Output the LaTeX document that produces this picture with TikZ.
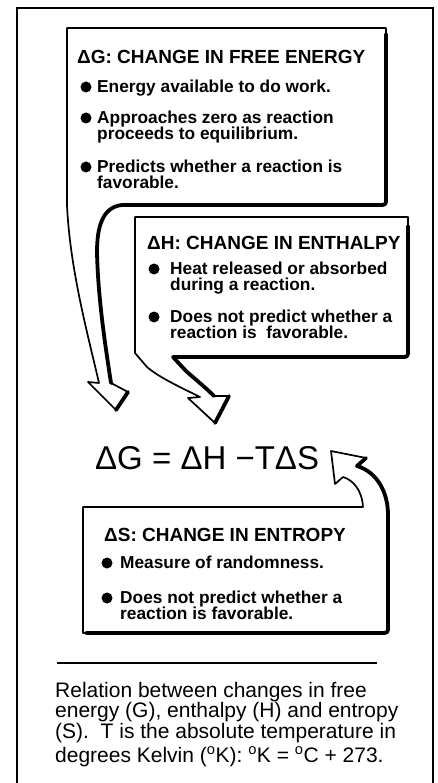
\documentclass[tikz,border=0pt]{standalone}
\usepackage{fontspec}
\setmainfont{Liberation Sans}
\newcommand\headfont{\fontsize{19}{19}\selectfont\bfseries}
\newcommand\itemfont{\fontsize{17.3}{15}\selectfont\bfseries}
\newcommand\eqfont{\fontsize{33}{33}\selectfont}
\newcommand\capfont{\fontsize{21}{20}\selectfont}
\begin{document}
\begin{tikzpicture}[x=1pt,y=-1pt,
  frameline/.style={line width=2pt},
  outline/.style={draw,fill=white,line width=1.7pt,line join=round},
  shade/.style={line width=3.8pt,line cap=round,line join=round},
  dot/.style={circle,fill,inner sep=0pt,minimum size=11pt},
  head/.style={font=\headfont,anchor=base west,inner sep=0pt},
  item/.style={font=\itemfont,anchor=base west,inner sep=0pt,text height=12.5pt,text depth=0pt},
  capline/.style={font=\capfont,anchor=base west,inner sep=0pt,text height=15pt,text depth=0pt}]
\useasboundingbox (0,0) rectangle (437,783);
\fill[white] (0,0) rectangle (437,783);

% outer frame, open at the bottom
\draw[frameline] (17,783) -- (17,8) -- (433,8) -- (433,783);

% ---- free energy callout with its arrow tail ----
\path[outline] (67,28) -- (386,28) -- (386,198) .. controls (386,205) .. (379,205)
  -- (122,205) .. controls (102,207) and (97,228) .. (97,252)
  .. controls (98,300) and (106,350) .. (111,383) -- (128,392) -- (116,410)
  -- (88,382) -- (99,383) .. controls (88,335) and (70,270) .. (67,205) -- cycle;
\draw[shade] (386,34) -- (386,198) .. controls (386,205) .. (379,205)
  -- (122,205) .. controls (102,207) and (97,228) .. (97,252)
  .. controls (98,300) and (106,350) .. (111,383);
\draw[shade] (128,392) -- (116,410);

\node[head] (gh) at (77,64) {ΔG: CHANGE IN FREE ENERGY};
\node[dot] (gd1) at (86,87) {};
\node[item] (g1) at (97,93) {Energy available to do work.};
\node[dot] (gd2) at (86,118) {};
\node[item] (g2a) at (97,124) {Approaches zero as reaction};
\node[item] (g2b) at (97,140) {proceeds to equilibrium.};
\node[dot] (gd3) at (86,167) {};
\node[item] (g3a) at (97,173) {Predicts whether a reaction is};
\node[item] (g3b) at (97,189) {favorable.};

% ---- enthalpy callout with its arrow tail ----
\path[outline] (135,217) -- (408,217) -- (408,350) .. controls (408,357) .. (401,357)
  -- (173,357) -- (186,371) .. controls (195,379) and (205,387) .. (214,396)
  -- (229,396) -- (215,423) -- (188,398) -- (200,397)
  .. controls (180,387) and (160,378) .. (147,367) -- (135,353) -- cycle;
\draw[shade] (408,226) -- (408,350) .. controls (408,357) .. (401,357)
  -- (173,357) -- (186,371) .. controls (195,379) and (205,387) .. (214,396);
\draw[shade] (229,396) -- (215,423);

\node[head] (hh) at (147,250) {ΔH: CHANGE IN ENTHALPY};
\node[dot] (hd1) at (154,269) {};
\node[item] (h1a) at (170,274) {Heat released or absorbed};
\node[item] (h1b) at (170,290) {during a reaction.};
\node[dot] (hd2) at (154,317) {};
\node[item] (h2a) at (170,322) {Does not predict whether a};
\node[item] (h2b) at (170,338) {reaction is\ \ favorable.};

% ---- the relation itself ----
\node[font=\eqfont,anchor=base west,inner sep=0pt] (eq) at (95,469)
  {ΔG = ΔH −TΔS};

% ---- entropy callout with its arrow pointing back up ----
\path[outline] (83,507) -- (363,507) .. controls (362,490) and (353,480) .. (343,477)
  -- (335,484) -- (331,451) -- (366,458) -- (357,466)
  .. controls (377,472) and (388,492) .. (388,515) -- (388,626)
  .. controls (388,633) .. (381,633) -- (83,633) -- cycle;
\draw[shade] (366,458) -- (357,466) .. controls (377,472) and (388,492) .. (388,515)
  -- (388,626) .. controls (388,633) .. (381,633) -- (86,633);

\node[head] (sh) at (104,541) {ΔS: CHANGE IN ENTROPY};
\node[dot] (sd1) at (107,563) {};
\node[item] (s1) at (120,568) {Measure of randomness.};
\node[dot] (sd2) at (107,598) {};
\node[item] (s2a) at (120,603) {Does not predict whether a};
\node[item] (s2b) at (120,619) {reaction is favorable.};

% ---- caption ----
\coordinate (rl) at (57,663);
\coordinate (rr) at (377,663);
\draw[line width=2pt] (rl) -- (rr);
\node[capline] (c1) at (55,697) {Relation between changes in free};
\node[capline] (c2) at (55,717) {energy (G), enthalpy (H) and entropy};
\node[capline] (c3) at (55,738) {(S).\ \ T is the absolute temperature in};
\node[capline] (c4) at (55,762) {degrees Kelvin (\textsuperscript{o}K): \textsuperscript{o}K = \textsuperscript{o}C + 273.};
\end{tikzpicture}
\end{document}
